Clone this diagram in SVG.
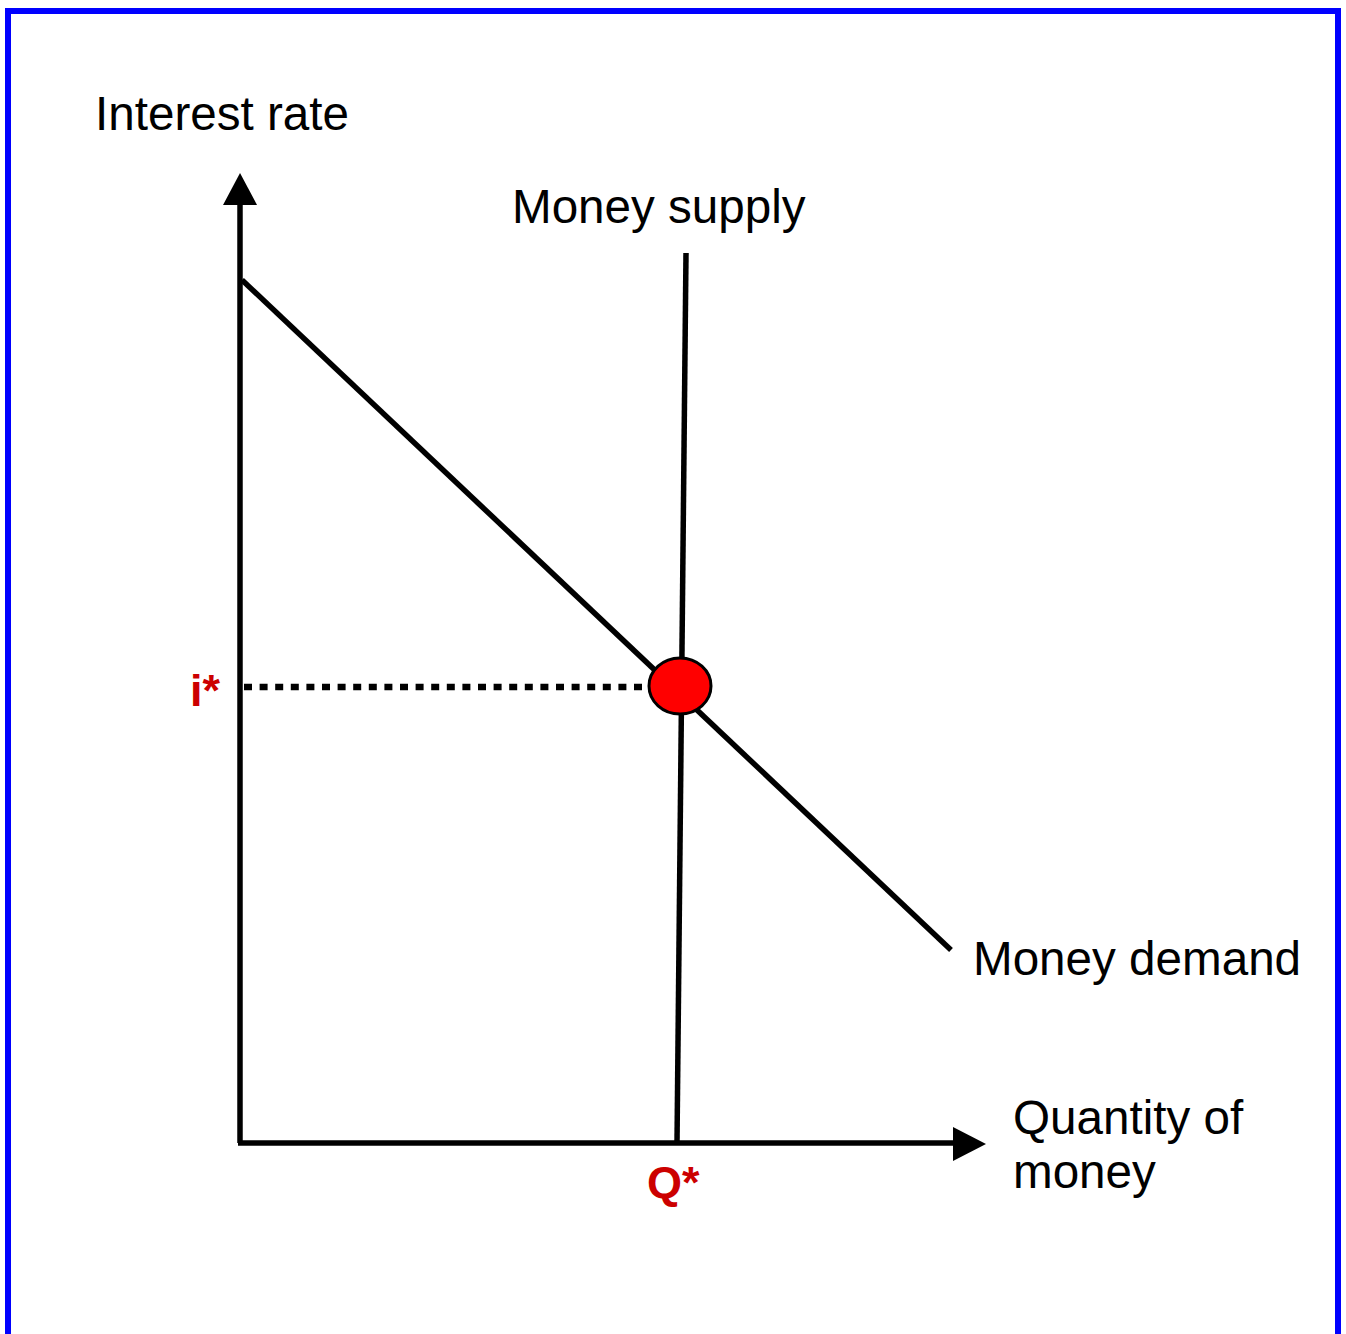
<svg xmlns="http://www.w3.org/2000/svg" width="1346" height="1334" viewBox="0 0 1346 1334">
<style>
.ln{stroke:#000;stroke-width:5.5;fill:none}
.lbl{font-family:"Liberation Sans",Arial,sans-serif;font-size:47.6px;fill:#000}
.red{font-family:"Liberation Sans",Arial,sans-serif;font-size:45px;font-weight:bold;fill:#CC0000}
</style>
<rect x="0" y="0" width="1346" height="1334" fill="#fff"/>
<rect x="8" y="11" width="1330" height="1340" fill="none" stroke="#0000FF" stroke-width="6"/>
<g id="connectors">
<line class="ln" x1="240" y1="1143" x2="240" y2="200"/>
<polygon points="223,205 257,205 240,173" fill="#000"/>
<line class="ln" x1="238" y1="1143" x2="958" y2="1143"/>
<polygon points="953,1127 953,1161 986,1144" fill="#000"/>
<line class="ln" x1="242" y1="280" x2="951" y2="950"/>
<line class="ln" x1="686" y1="253" x2="677" y2="1143"/>
<line x1="244" y1="687" x2="650" y2="687" stroke="#000" stroke-width="6.5" stroke-dasharray="8 7.6"/>
</g>
<g id="equilibrium">
<ellipse cx="680" cy="686" rx="31" ry="28" fill="#FF0000" stroke="#000" stroke-width="3"/>
</g>
<g id="label-interest"><text class="lbl" x="95" y="130">Interest rate</text></g>
<g id="label-supply"><text class="lbl" x="512" y="223">Money supply</text></g>
<g id="label-demand"><text class="lbl" x="973" y="975">Money demand</text></g>
<g id="label-quantity"><text class="lbl" x="1013" y="1134">Quantity of</text><text class="lbl" x="1013" y="1188">money</text></g>
<g id="label-istar"><text class="red" x="190" y="706">i*</text></g>
<g id="label-qstar"><text class="red" x="647" y="1198">Q*</text></g>
</svg>
